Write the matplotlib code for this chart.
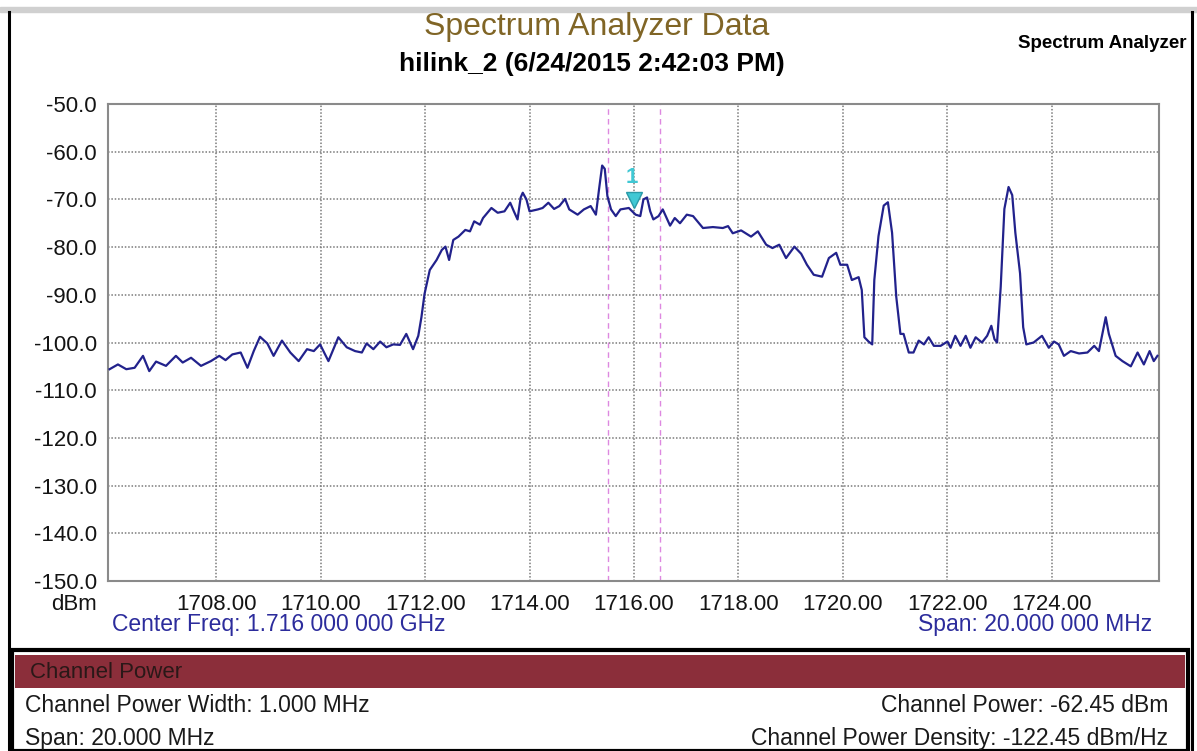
import matplotlib
matplotlib.use('Agg')
from matplotlib import pyplot as plt
from matplotlib.patches import Rectangle
from matplotlib.lines import Line2D

# trace (MHz, dBm)
freq = [1705.96, 1706.12, 1706.28, 1706.44, 1706.60, 1706.72, 1706.85, 1707.04, 1707.23, 1707.36,
        1707.52, 1707.71, 1707.90, 1708.06, 1708.18, 1708.31, 1708.47, 1708.60, 1708.72, 1708.84,
        1708.98, 1709.10, 1709.26, 1709.42, 1709.58, 1709.74, 1709.87, 1709.99, 1710.15, 1710.34,
        1710.50, 1710.66, 1710.79, 1710.88, 1711.01, 1711.14, 1711.26, 1711.39, 1711.52, 1711.64,
        1711.77, 1711.87, 1711.93, 1711.99, 1712.09, 1712.22, 1712.32, 1712.39, 1712.46, 1712.54,
        1712.64, 1712.77, 1712.86, 1712.94, 1713.05, 1713.11, 1713.27, 1713.39, 1713.52, 1713.63,
        1713.70, 1713.77, 1713.83, 1713.87, 1713.94, 1714.00, 1714.16, 1714.25, 1714.36, 1714.47,
        1714.57, 1714.68, 1714.76, 1714.92, 1715.04, 1715.17, 1715.27, 1715.33, 1715.39, 1715.44,
        1715.49, 1715.56, 1715.65, 1715.74, 1715.90, 1716.03, 1716.12, 1716.18, 1716.25, 1716.31,
        1716.37, 1716.47, 1716.55, 1716.69, 1716.78, 1716.88, 1717.01, 1717.13, 1717.32, 1717.51,
        1717.70, 1717.80, 1717.89, 1718.05, 1718.24, 1718.37, 1718.53, 1718.65, 1718.78, 1718.91,
        1719.07, 1719.20, 1719.31, 1719.44, 1719.60, 1719.73, 1719.87, 1719.95, 1720.08, 1720.17,
        1720.30, 1720.36, 1720.41, 1720.49, 1720.56, 1720.60, 1720.68, 1720.78, 1720.86, 1720.94,
        1721.02, 1721.10, 1721.16, 1721.26, 1721.35, 1721.45, 1721.55, 1721.64, 1721.74, 1721.87,
        1722.00, 1722.06, 1722.15, 1722.25, 1722.35, 1722.44, 1722.54, 1722.66, 1722.76, 1722.84,
        1722.90, 1722.95, 1723.02, 1723.09, 1723.17, 1723.24, 1723.30, 1723.39, 1723.45, 1723.51,
        1723.65, 1723.81, 1723.94, 1724.04, 1724.13, 1724.23, 1724.36, 1724.52, 1724.68, 1724.81,
        1724.90, 1724.98, 1725.03, 1725.09, 1725.22, 1725.35, 1725.51, 1725.64, 1725.76, 1725.87,
        1725.95, 1726.02]
level = [-105.6, -104.6, -105.6, -105.3, -102.8, -106.0, -104.0, -104.9, -102.8, -104.2,
         -103.2, -104.9, -103.9, -102.8, -103.7, -102.5, -102.1, -105.3, -101.8, -98.8,
         -100.2, -102.8, -99.6, -102.1, -103.9, -101.4, -101.8, -100.4, -103.9, -98.9,
         -101.0, -101.8, -102.1, -100.2, -101.4, -99.8, -101.0, -100.4, -100.5, -98.2,
         -101.4, -98.6, -94.7, -89.8, -84.8, -82.7, -80.6, -79.9, -82.7, -78.5,
         -77.8, -76.4, -76.7, -74.6, -75.3, -73.9, -71.8, -72.8, -72.5, -70.7,
         -72.5, -74.2, -69.6, -68.6, -70.0, -72.5, -72.1, -71.8, -70.7, -72.0,
         -71.4, -69.9, -72.1, -73.2, -72.1, -71.4, -73.2, -67.9, -62.9, -63.6,
         -69.3, -72.1, -73.5, -72.1, -71.8, -73.2, -73.5, -70.0, -69.6, -72.5,
         -74.2, -73.5, -72.1, -75.5, -73.9, -75.0, -73.2, -73.5, -76.0, -75.8,
         -76.0, -75.6, -77.1, -76.5, -77.8, -76.7, -79.5, -80.2, -79.5, -82.3,
         -79.9, -81.4, -83.7, -85.8, -86.2, -82.3, -81.2, -83.7, -83.7, -86.9,
         -86.3, -89.0, -98.9, -99.8, -100.4, -86.9, -77.7, -71.3, -70.6, -77.0,
         -90.4, -98.2, -98.2, -102.1, -102.1, -99.6, -100.4, -98.9, -100.7, -100.7,
         -99.8, -101.1, -98.6, -100.7, -98.6, -101.1, -98.9, -100.0, -98.6, -96.5,
         -99.3, -100.0, -88.3, -72.0, -67.4, -69.1, -77.0, -85.5, -96.8, -100.4,
         -100.0, -98.6, -101.1, -99.8, -100.4, -102.8, -101.8, -102.3, -102.1, -100.7,
         -101.8, -97.5, -94.7, -98.2, -102.8, -103.9, -105.0, -102.1, -104.6, -101.8,
         -103.9, -102.8]

x_ticks = [1708, 1710, 1712, 1714, 1716, 1718, 1720, 1722, 1724]
y_ticks = [-50, -60, -70, -80, -90, -100, -110, -120, -130, -140, -150]
channel_edges = [1715.5, 1716.5]
marker_freq = 1716.0
marker_level = -70.2

W, H = 1197, 751
plt.rcParams['font.family'] = ['Liberation Sans', 'DejaVu Sans']
fig = plt.figure(figsize=(W / 100, H / 100), dpi=100)


def fx(px):
    return px / W


def fy(py):
    return 1 - py / H


# 화면 테두리
fig.patches.append(Rectangle((0, fy(12)), 1, 5 / H, transform=fig.transFigure, color='#d0d0d0', zorder=0))
fig.add_artist(Line2D([fx(8.5), fx(8.5)], [fy(12), 0], color='black', lw=2.2))
fig.add_artist(Line2D([fx(1192), fx(1192)], [fy(12), 0], color='black', lw=2.2))

ax = fig.add_axes([fx(108), fy(581), fx(1159) - fx(108), (581 - 104) / H])
ax.plot(freq, level, color='#22228c', lw=1.6, zorder=3)
for f in channel_edges:
    ax.axvline(f, color='#dd88e0', lw=1, ls=(0, (4, 3)), zorder=2)
ax.plot(marker_freq, marker_level, marker='v', ms=11, color='#40c8d4', mec='#2a9aa8', zorder=4)
ax.text(marker_freq - 0.04, marker_level + 4.8, '1', color='#40c8d4', fontsize=16,
        fontweight='bold', ha='center', va='center', zorder=4)

ax.set_xlim(1705.93, 1726.05)
ax.set_ylim(-150, -50)
ax.set_xticks(x_ticks)
ax.set_xticklabels(['{:.2f}'.format(v) for v in x_ticks])
ax.set_yticks(y_ticks)
ax.set_yticklabels(['{:.1f}'.format(v) for v in y_ticks])
ax.tick_params(length=0, labelsize=16, colors='#141414')
ax.tick_params(axis='y', pad=8)
ax.tick_params(axis='x', pad=9)
ax.grid(color='#7a7a7a', ls=(0, (1, 1.2)), lw=1.1)
for s in ax.spines.values():
    s.set_color('#8a8a8a')
    s.set_linewidth(1.5)

fig.text(fx(597), fy(27), 'Spectrum Analyzer Data', ha='center', va='center', fontsize=23, color='#806526')
fig.text(fx(592), fy(64), 'hilink_2 (6/24/2015 2:42:03 PM)', ha='center', va='center',
         fontsize=19, fontweight='bold', color='black')
fig.text(fx(1186), fy(44), 'Spectrum Analyzer', ha='right', va='center', fontsize=13.5,
         fontweight='bold', color='black')
fig.text(fx(97), fy(604), 'dBm', ha='right', va='center', fontsize=16, color='#141414')
fig.text(fx(112), fy(625), 'Center Freq: 1.716 000 000 GHz', ha='left', va='center', fontsize=16.5, color='#2c2c9c')
fig.text(fx(1152), fy(625), 'Span: 20.000 000 MHz', ha='right', va='center', fontsize=16.5, color='#2c2c9c')

# Channel Power 패널
fig.patches.append(Rectangle((fx(12), 0), fx(1188) - fx(12), (751 - 650) / H, transform=fig.transFigure,
                             facecolor='white', edgecolor='black', lw=3, zorder=1))
fig.patches.append(Rectangle((fx(15), fy(688)), fx(1185) - fx(15), 33 / H, transform=fig.transFigure,
                             facecolor='#8b2e3a', edgecolor='none', zorder=2))
fig.text(fx(30), fy(672), 'Channel Power', ha='left', va='center', fontsize=16, color='#2a1818')
fig.text(fx(25), fy(706), 'Channel Power Width: 1.000 MHz', ha='left', va='center', fontsize=16.5, color='#1a1a1a')
fig.text(fx(1168), fy(706), 'Channel Power: -62.45 dBm', ha='right', va='center', fontsize=16.5, color='#1a1a1a')
fig.text(fx(25), fy(739), 'Span: 20.000 MHz', ha='left', va='center', fontsize=16.5, color='#1a1a1a')
fig.text(fx(1168), fy(739), 'Channel Power Density: -122.45 dBm/Hz', ha='right', va='center', fontsize=16.5,
         color='#1a1a1a')

fig.savefig('out.png', dpi=100)
